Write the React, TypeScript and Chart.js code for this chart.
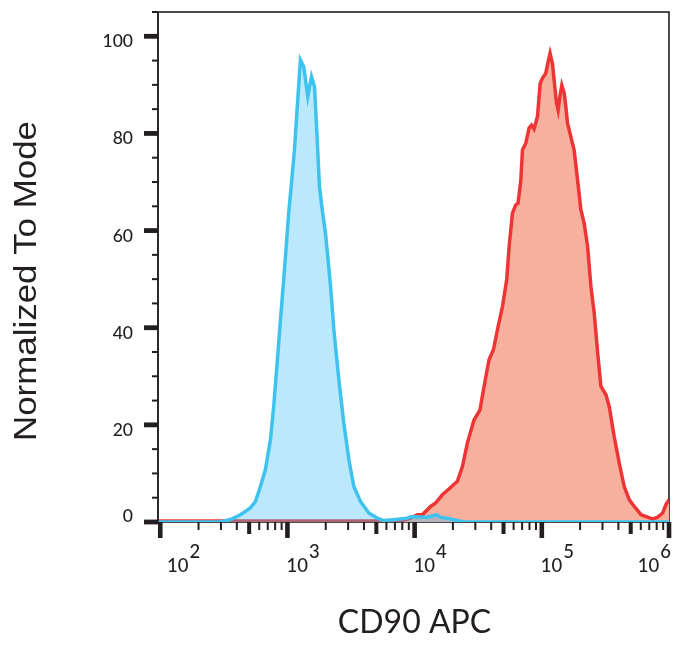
import React, { useEffect, useRef } from "react";
import { Chart, registerables } from "chart.js";

Chart.register(...registerables);

// ---- data ----
const blueX = [96, 297, 356, 427, 511, 560, 613, 671, 735, 780, 830, 881, 935, 1023, 1069, 1135, 1205, 1265, 1343, 1445, 1545, 1633, 1714, 1786, 1877, 1991, 2075, 2183, 2317, 2535, 2773, 3041, 3327, 3758, 4365, 5082, 5728, 7079, 8770, 9311, 12590, 14900, 16030, 19190, 24430, 1000000];
const blueY = [0, 0, 0.5, 1.5, 2.9, 4.2, 7.3, 10.8, 16.9, 23.8, 32.7, 41.6, 49.9, 63.6, 69, 76.6, 86.9, 95.1, 93.7, 87.6, 91.7, 89.6, 78.7, 69, 64.3, 59.5, 54.6, 48.5, 39.6, 29.3, 20.4, 12.8, 7.3, 4.2, 1.85, 0.8, 0.3, 0.5, 0.8, 1.1, 1.0, 1.5, 1.0, 0.6, 0, 0];

const redX = [96, 7762, 9311, 10500, 11500, 13370, 14630, 16520, 18620, 21680, 23750, 26000, 29310, 32660, 35160, 38460, 41690, 45290, 49090, 52970, 55340, 58750, 62370, 65010, 68390, 70470, 74820, 79430, 82990, 86900, 92470, 97050, 101400, 107400, 112200, 116100, 121300, 126500, 130600, 134300, 138700, 143600, 149900, 154500, 159200, 171400, 179500, 191000, 202800, 215300, 229100, 243200, 258200, 274800, 291700, 319200, 338800, 370700, 406400, 444600, 486400, 533300, 602600, 679200, 744700, 814700, 891300, 946200, 1000000];
const redY = [0.2, 0.2, 0.8, 1.5, 1.5, 3.2, 3.9, 5.6, 6.8, 8.4, 11.4, 16.3, 21, 23.1, 27.9, 33.4, 35.5, 40.2, 44.4, 49.9, 56.7, 63.6, 65.3, 65.6, 70.4, 76.6, 78, 81.1, 81.7, 80.9, 83.5, 90.3, 91.4, 92.4, 94.8, 96.5, 94.4, 89.6, 86.2, 84.8, 87.6, 89.9, 88.3, 85.5, 82.1, 78.7, 76.6, 70.4, 64.3, 61.5, 56.7, 48.5, 43, 34.8, 27.9, 26.2, 23.8, 17.6, 12.1, 7.3, 4.6, 3.2, 1.5, 1.0, 0.6, 1.0, 1.85, 3.6, 4.6];

const yTickValues = [0, 20, 40, 60, 80, 100];
const yTickLabels = ["0", "20", "40", "60", "80", "100"];
const xDecadeExponents = [2, 3, 4, 5, 6];
const xMin = 96;
const xMax = 1000000;
const yMax = 105;
const yMinorStep = 5;
const xTitle = "CD90 APC";
const yTitle = "Normalized To Mode";

const INK = "#231f20";

const axesPlugin = {
  id: "flowAxes",
  beforeDatasetsDraw(chart: any) {
    const { ctx, chartArea: a } = chart;
    ctx.save();
    ctx.strokeStyle = "#111";
    ctx.lineWidth = 1.5;
    ctx.strokeRect(a.left, a.top, a.right - a.left, a.bottom - a.top);
    ctx.restore();
  },
  afterDraw(chart: any) {
    const { ctx, chartArea: a, scales } = chart;
    const xs = scales.x;
    const ys = scales.y;
    ctx.save();
    ctx.fillStyle = INK;
    // left axis line over data
    ctx.fillRect(a.left - 0.75, a.top, 1.5, a.bottom - a.top);

    // y ticks
    for (let v = 0; v <= yMax + 0.001; v += yMinorStep) {
      const py = ys.getPixelForValue(v);
      if (yTickValues.includes(v)) ctx.fillRect(a.left - 14, py - 2.4, 14, 4.8);
      else ctx.fillRect(a.left - 6, py - 1, 6, 2);
    }
    // y labels
    ctx.font = '500 17.5px Lato, "Open Sans", sans-serif';
    ctx.textAlign = "right";
    ctx.textBaseline = "alphabetic";
    yTickValues.forEach((v, i) => {
      const py = ys.getPixelForValue(v);
      const base = v === 0 ? py - 0.5 : py + 11;
      ctx.fillText(yTickLabels[i], 133, base);
    });

    // x ticks
    for (let e = 1; e <= 6; e++) {
      for (let m = 1; m <= 9; m++) {
        const v = m * Math.pow(10, e);
        if (v < xMin || v > xMax + 1) continue;
        const px = xs.getPixelForValue(v);
        if (m === 1) ctx.fillRect(px - 2.3, a.bottom, 4.6, 16);
        else if (m === 5) ctx.fillRect(px - 2, a.bottom, 4, 12);
        else ctx.fillRect(px - 1, a.bottom, 2, 8);
      }
    }
    // x labels: 10^n
    ctx.textAlign = "left";
    xDecadeExponents.forEach((e) => {
      const px = xs.getPixelForValue(Math.pow(10, e));
      ctx.font = '500 18.5px Lato, "Open Sans", sans-serif';
      const wBase = ctx.measureText("10").width;
      const wExp = ctx.measureText(String(e)).width;
      const total = wBase + 1 + wExp;
      let x = px - 1;
      if (x < a.left + 9) x = a.left + 9;
      if (x + total > a.right + 2) x = a.right + 2 - total;
      ctx.fillText("10", x, 572);
      ctx.fillText(String(e), x + wBase + 1, 558);
    });

    // axis titles
    ctx.font = '32px Lato, "Open Sans", sans-serif';
    ctx.textAlign = "center";
    ctx.fillText(xTitle, (a.left + a.right) / 2 + 1, 633);

    ctx.save();
    ctx.font = '31px "Liberation Sans", Arial, sans-serif';
    const w = ctx.measureText(yTitle).width;
    ctx.translate(36, 281);
    ctx.rotate(-Math.PI / 2);
    ctx.scale(320 / w, 1);
    ctx.fillText(yTitle, 0, 0);
    ctx.restore();

    ctx.restore();
  },
};

export default function App() {
  const ref = useRef<HTMLCanvasElement>(null);
  useEffect(() => {
    if (!ref.current) return;
    const chart = new Chart(ref.current, {
      type: "line",
      data: {
        datasets: [
          {
            label: "control",
            data: blueX.map((x, i) => ({ x, y: blueY[i] })),
            borderColor: "#3ec3ef",
            backgroundColor: "rgba(60,190,240,0.35)",
            borderWidth: 3.5,
            pointRadius: 0,
            tension: 0,
            fill: "origin",
            order: 1,
          },
          {
            label: "CD90",
            data: redX.map((x, i) => ({ x, y: redY[i] })),
            borderColor: "#ee3535",
            backgroundColor: "#f8b09e",
            borderWidth: 3.5,
            pointRadius: 0,
            tension: 0,
            fill: "origin",
            order: 2,
          },
        ],
      },
      options: {
        animation: false,
        responsive: false,
        devicePixelRatio: 1,
        layout: { padding: { top: 12, right: 18, left: 0, bottom: 0 } },
        plugins: { legend: { display: false }, tooltip: { enabled: false } },
        scales: {
          x: {
            type: "logarithmic",
            min: xMin,
            max: xMax,
            ticks: { display: false },
            grid: { display: false },
            border: { display: false },
            afterFit: (s: any) => {
              s.height = 134;
            },
          },
          y: {
            type: "linear",
            min: 0,
            max: yMax,
            ticks: { display: false },
            grid: { display: false },
            border: { display: false },
            afterFit: (s: any) => {
              s.width = 158;
            },
          },
        },
      },
      plugins: [axesPlugin],
    });
    return () => chart.destroy();
  }, []);
  return (
    <div style={{ position: "absolute", left: 0, top: 0, width: 687, height: 656, background: "#fff" }}>
      <canvas ref={ref} width={687} height={656} style={{ width: 687, height: 656, display: "block" }} />
    </div>
  );
}
